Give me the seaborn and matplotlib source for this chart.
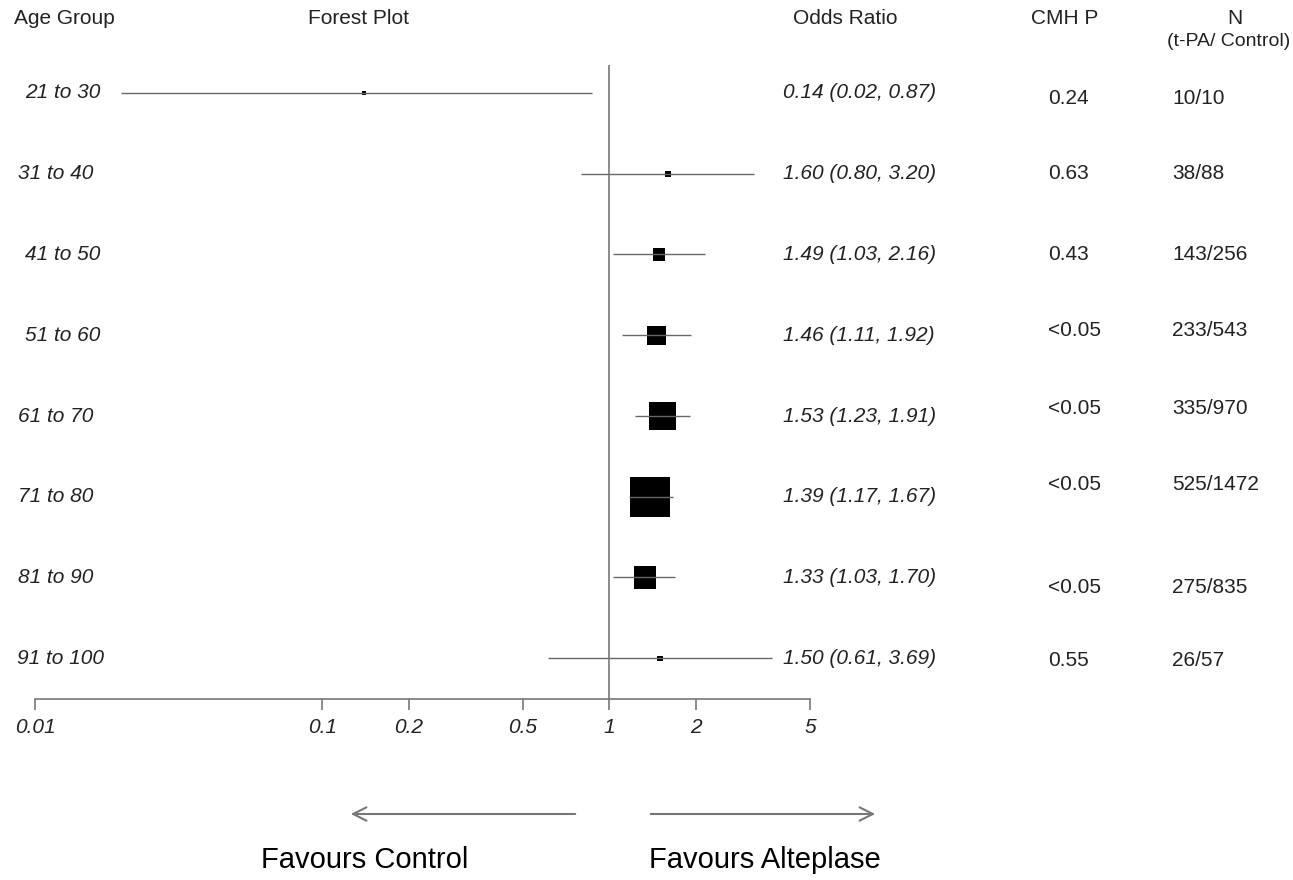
import numpy as np
import pandas as pd
import matplotlib
matplotlib.use("Agg")
import matplotlib.pyplot as plt
import matplotlib.ticker as mticker
from matplotlib.transforms import blended_transform_factory
import seaborn as sns

##############################################
### DATA #####################################
##############################################

age_groups = ["21 to 30", "31 to 40", "41 to 50", "51 to 60",
              "61 to 70", "71 to 80", "81 to 90", "91 to 100"]
odds_ratio = [0.14, 1.60, 1.49, 1.46, 1.53, 1.39, 1.33, 1.50]
ci_low = [0.02, 0.80, 1.03, 1.11, 1.23, 1.17, 1.03, 0.61]
ci_high = [0.87, 3.20, 2.16, 1.92, 1.91, 1.67, 1.70, 3.69]
cmh_p = ["0.24", "0.63", "0.43", "<0.05", "<0.05", "<0.05", "<0.05", "0.55"]
n_tpa = [10, 38, 143, 233, 335, 525, 275, 26]
n_control = [10, 88, 256, 543, 970, 1472, 835, 57]
x_ticks = [0.01, 0.1, 0.2, 0.5, 1, 2, 5]

df = pd.DataFrame({"group": age_groups, "OR": odds_ratio,
                   "lo": ci_low, "hi": ci_high, "p": cmh_p})
df["row"] = np.arange(len(df))

# box size from inverse variance weight (log scale CI)
se = (np.log(df["hi"]) - np.log(df["lo"])) / 3.92
w = 1 / se**2
side_px = 4 + 36 * w / w.max()
df["s"] = (side_px * 72 / 100) ** 2

##############################################
### LAYOUT ###################################
##############################################

W, H = 1293, 880
row0_px, row_step_px = 93, 80.75   # pixel y of first row, row spacing


def row_at(p):
    # pixel y (from top) -> row coordinate
    return (p - row0_px) / row_step_px


def fx(p):
    # pixel x -> figure fraction
    return p / W


sns.set_style("white")
plt.rcParams["font.family"] = ["Liberation Sans", "DejaVu Sans"]
txt_col = "#222222"
line_col = "#777777"

fig = plt.figure(figsize=(W / 100, H / 100), dpi=100)
# forest axis: 0.01 at x=35 px, 5 at x=810 px, full height
ax = fig.add_axes([fx(35), 0, fx(810 - 35), 1])
ax.set_xscale("log")
ax.set_xlim(0.01, 5)
ax.set_ylim(row_at(H), row_at(0))
ax.patch.set_alpha(0)

# CI lines
ax.hlines(df["row"], df["lo"], df["hi"], color="#666666", lw=1)

# boxes
sns.scatterplot(data=df, x="OR", y="row", s=df["s"], marker="s",
                color="black", edgecolor="black", linewidth=0, ax=ax, legend=False)

# reference line at 1
axis_row = row_at(699)
ax.vlines(1, row_at(65), axis_row, color=line_col, lw=1.2)

# x axis
for sp in ["top", "left", "right"]:
    ax.spines[sp].set_visible(False)
ax.spines["bottom"].set_position(("data", axis_row))
ax.spines["bottom"].set_color(line_col)
ax.spines["bottom"].set_linewidth(1.2)
ax.set_xticks(x_ticks)
ax.set_xticklabels([f"{t:g}" for t in x_ticks], fontstyle="italic", fontsize=15, color=txt_col)
ax.xaxis.set_minor_locator(mticker.NullLocator())
ax.tick_params(axis="x", direction="out", length=8, width=1.2, color=line_col, pad=6, bottom=True)
ax.set_yticks([])
ax.set_xlabel("")
ax.set_ylabel("")

tr = blended_transform_factory(fig.transFigure, ax.transData)

# headers
hdr = dict(transform=tr, fontsize=15, color=txt_col, va="center")
ax.text(fx(14), row_at(18), "Age Group", ha="left", **hdr)
ax.text(fx(358), row_at(18), "Forest Plot", ha="center", **hdr)
ax.text(fx(845), row_at(18), "Odds Ratio", ha="center", **hdr)
ax.text(fx(1065), row_at(18), "CMH P", ha="center", **hdr)
ax.text(fx(1235), row_at(18), "N", ha="center", **hdr)
ax.text(fx(1290), row_at(42), "(t-PA/ Control)", transform=tr, fontsize=14, color=txt_col,
        va="center", ha="right")

# label indents and stat column shifts as they sit in the original
label_indent = [7, 0, 7, 7, 0, 0, 0, -1]
stat_shift = [5, 0, 0, -5, -7, -12, 10, 2]

for i, r in df.iterrows():
    ax.text(fx(18 + label_indent[i]), r["row"], r["group"], transform=tr, fontsize=15,
            fontstyle="italic", color=txt_col, ha="left", va="center")
    ax.text(fx(783), r["row"], f"{r['OR']:.2f} ({r['lo']:.2f}, {r['hi']:.2f})", transform=tr,
            fontsize=15, fontstyle="italic", color=txt_col, ha="left", va="center")
    y_stat = r["row"] + stat_shift[i] / row_step_px
    ax.text(fx(1048), y_stat, r["p"], transform=tr, fontsize=15, color=txt_col,
            ha="left", va="center")
    ax.text(fx(1172), y_stat, f"{n_tpa[i]}/{n_control[i]}", transform=tr, fontsize=15,
            color=txt_col, ha="left", va="center")

# direction arrows
arr = dict(arrowstyle="->", color="#777777", lw=1.5, mutation_scale=24)
ax.annotate("", xy=(fx(348), row_at(814)), xytext=(fx(578), row_at(814)),
            xycoords=tr, textcoords=tr, arrowprops=arr)
ax.annotate("", xy=(fx(878), row_at(814)), xytext=(fx(648), row_at(814)),
            xycoords=tr, textcoords=tr, arrowprops=arr)
ax.text(fx(365), row_at(860), "Favours Control", transform=tr, fontsize=21,
        color="black", ha="center", va="center")
ax.text(fx(765), row_at(860), "Favours Alteplase", transform=tr, fontsize=21,
        color="black", ha="center", va="center")

fig.savefig("out.png", dpi=100)
